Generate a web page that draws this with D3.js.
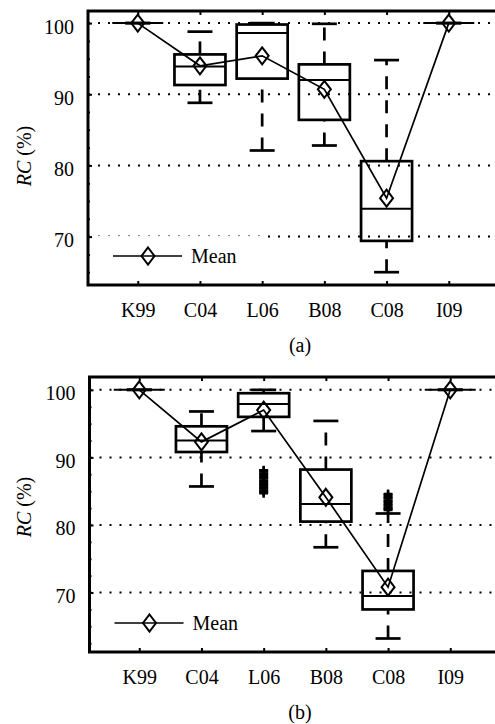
<!DOCTYPE html>
<html>
<head>
<meta charset="utf-8">
<script src="https://cdn.jsdelivr.net/npm/d3@7"></script>
<style>
  body { margin: 0; background: #fff; }
  svg text { font-family: "Liberation Serif", "Times New Roman", serif; fill: #000; }
</style>
</head>
<body>
<div id="chart"></div>
<script>
var width = 495,
	height = 724;

// Data
var categories = ["K99", "C04", "L06", "B08", "C08", "I09"];
var yTicks = [70, 80, 90, 100];

// panel (a)
var aLowCap  = [100, 88.8, 82.1, 82.8, 65.0, 100];
var aQ1      = [100, 91.3, 92.2, 86.4, 69.4, 100];
var aMedian  = [100, 93.9, 98.6, 92.0, 73.9, 100];
var aQ3      = [100, 95.6, 99.8, 94.2, 80.6, 100];
var aHighCap = [100, 98.8, 100, 99.9, 94.8, 100];
var aMean    = [100, 94.0, 95.4, 90.7, 75.4, 100];

// panel (b)
var bLowCap  = [100, 85.7, 93.9, 76.7, 63.2, 100];
var bQ1      = [100, 90.8, 96.0, 80.5, 67.5, 100];
var bMedian  = [100, 92.5, 97.9, 83.1, 69.5, 100];
var bQ3      = [100, 94.6, 99.5, 88.2, 73.2, 100];
var bHighCap = [100, 96.8, 100, 95.4, 81.7, 100];
var bMean    = [100, 92.3, 97.0, 84.1, 70.8, 100];
var bOutliersL06 = [88.1, 87.9, 87.6, 87.4, 87.1, 86.9, 86.6, 86.4, 86.1, 85.9, 85.6, 85.4, 85.1, 84.9, 84.7];
var bOutliersC08 = [84.6, 84.4, 84.1, 83.9, 83.6, 83.4, 83.1, 82.9, 82.6, 82.4, 82.2];

var panels = [
	{ label: "(a)", top: 11, bottom: 285, left: 88, ymin: 63.2, ymax: 101.7, ylabelY: 156,
	  low: aLowCap, q1: aQ1, med: aMedian, q3: aQ3, high: aHighCap, mean: aMean, outliers: [] },
	{ label: "(b)", top: 377, bottom: 652, left: 89.5, ymin: 61.2, ymax: 101.9, ylabelY: 507,
	  low: bLowCap, q1: bQ1, med: bMedian, q3: bQ3, high: bHighCap, mean: bMean,
	  outliers: [{ i: 3, values: bOutliersL06 }, { i: 5, values: bOutliersC08 }] }
];

var svg = d3.select("#chart")
	.append("svg")
	.attr("width", width)
	.attr("height", height);

var boxW = 51, capW = 25;
var diamond = "M0,-8.5L6.5,0L0,8.5L-6.5,0Z";

panels.forEach(function(p) {
	var x = d3.scaleLinear().domain([0.2, 7.2]).range([p.left, p.left + 7 * 62.2]);
	var y = d3.scaleLinear().domain([p.ymin, p.ymax]).range([p.bottom, p.top]);
	var g = svg.append("g");
	var idx = d3.range(1, categories.length + 1);

	// dotted grid
	g.selectAll(".grid")
		.data(yTicks)
		.enter()
		.append("line")
		.attr("x1", p.left).attr("x2", width)
		.attr("y1", function(d) { return y(d); })
		.attr("y2", function(d) { return y(d); })
		.attr("stroke", "#000")
		.attr("stroke-width", 2)
		.attr("stroke-dasharray", "2,8");

	// whiskers (drawn from lower value upward)
	var boxes = g.selectAll(".box")
		.data(idx)
		.enter()
		.append("g")
		.attr("fill", "none")
		.attr("stroke", "#000")
		.attr("stroke-width", 2.7);

	boxes.append("line")
		.attr("x1", function(i) { return x(i); }).attr("x2", function(i) { return x(i); })
		.attr("y1", function(i) { return y(p.q3[i - 1]); })
		.attr("y2", function(i) { return y(p.high[i - 1]); })
		.attr("stroke-dasharray", "13,11");
	boxes.append("line")
		.attr("x1", function(i) { return x(i); }).attr("x2", function(i) { return x(i); })
		.attr("y1", function(i) { return y(p.low[i - 1]); })
		.attr("y2", function(i) { return y(p.q1[i - 1]); })
		.attr("stroke-dasharray", "13,11");
	// caps
	[p.low, p.high].forEach(function(arr) {
		boxes.append("line")
			.attr("x1", function(i) { return x(i) - capW / 2; })
			.attr("x2", function(i) { return x(i) + capW / 2; })
			.attr("y1", function(i) { return y(arr[i - 1]); })
			.attr("y2", function(i) { return y(arr[i - 1]); });
	});
	// box
	boxes.append("rect")
		.attr("x", function(i) { return x(i) - boxW / 2; })
		.attr("width", boxW)
		.attr("y", function(i) { return y(p.q3[i - 1]); })
		.attr("height", function(i) { return y(p.q1[i - 1]) - y(p.q3[i - 1]); });
	// median
	boxes.append("line")
		.attr("x1", function(i) { return x(i) - boxW / 2; })
		.attr("x2", function(i) { return x(i) + boxW / 2; })
		.attr("y1", function(i) { return y(p.med[i - 1]); })
		.attr("y2", function(i) { return y(p.med[i - 1]); })
		.attr("stroke-width", 2);

	// outliers
	p.outliers.forEach(function(o) {
		g.selectAll(null)
			.data(o.values)
			.enter()
			.append("path")
			.attr("transform", function(d) { return "translate(" + x(o.i) + "," + y(d) + ")"; })
			.attr("d", "M-4.5,0H4.5M0,-4.5V4.5")
			.attr("stroke", "#000")
			.attr("stroke-width", 2.5);
	});

	// mean line + diamonds
	var line = d3.line()
		.x(function(d, i) { return x(i + 1); })
		.y(function(d) { return y(d); });
	g.append("path")
		.datum(p.mean)
		.attr("d", line)
		.attr("fill", "none")
		.attr("stroke", "#000")
		.attr("stroke-width", 1.7);
	g.selectAll(".mean")
		.data(p.mean)
		.enter()
		.append("path")
		.attr("transform", function(d, i) { return "translate(" + x(i + 1) + "," + y(d) + ")"; })
		.attr("d", diamond)
		.attr("fill", "none")
		.attr("stroke", "#000")
		.attr("stroke-width", 2);

	// legend
	var ly = p.bottom - 29;
	g.append("rect")
		.attr("x", p.left + 2).attr("y", ly - 20)
		.attr("width", 176).attr("height", 40)
		.attr("fill", "#fff");
	g.append("line")
		.attr("x1", p.left + 25).attr("x2", p.left + 94)
		.attr("y1", ly).attr("y2", ly)
		.attr("stroke", "#000").attr("stroke-width", 1.7);
	g.append("path")
		.attr("transform", "translate(" + (p.left + 60) + "," + ly + ")")
		.attr("d", diamond)
		.attr("fill", "none").attr("stroke", "#000").attr("stroke-width", 2);
	g.append("text")
		.attr("x", p.left + 103).attr("y", ly + 7)
		.attr("font-size", 20)
		.text("Mean");

	// axes
	var yAxis = g.append("g")
		.attr("transform", "translate(" + p.left + ",0)")
		.call(d3.axisLeft(y).tickValues(yTicks).tickSizeInner(-4).tickSizeOuter(0).tickPadding(14));
	var minor = d3.range(62.5, 101, 2.5).filter(function(v) { return v > p.ymin + 0.5 && v < p.ymax - 0.5; });
	g.append("g")
		.attr("transform", "translate(" + p.left + ",0)")
		.call(d3.axisLeft(y).tickValues(minor).tickSizeInner(-2).tickSizeOuter(0).tickFormat(""));
	g.append("g")
		.attr("transform", "translate(0," + p.bottom + ")")
		.call(d3.axisBottom(x).tickValues(idx).tickSizeInner(-4).tickSizeOuter(0).tickPadding(18)
			.tickFormat(function(i) { return categories[i - 1]; }));
	g.append("g")
		.attr("transform", "translate(0," + p.top + ")")
		.call(d3.axisTop(x).tickValues(idx).tickSizeInner(-4).tickSizeOuter(0).tickFormat(""));

	g.selectAll(".domain").remove();
	g.selectAll(".tick line").attr("stroke", "#000").attr("stroke-width", 2);
	g.selectAll(".tick text")
		.attr("font-family", "Liberation Serif, Times New Roman, serif")
		.attr("font-size", 20);
	yAxis.selectAll(".tick text").attr("dy", "0.5em");

	g.append("path")
		.attr("d", "M" + width + "," + p.top + "H" + p.left + "V" + p.bottom + "H" + width)
		.attr("fill", "none")
		.attr("stroke", "#000")
		.attr("stroke-width", 3);

	// y label
	var yl = g.append("text")
		.attr("transform", "translate(31," + p.ylabelY + ") rotate(-90)")
		.attr("text-anchor", "middle")
		.attr("font-size", 20);
	yl.append("tspan").attr("font-style", "italic").text("RC");
	yl.append("tspan").text(" (%)");

	// panel label
	g.append("text")
		.attr("x", 300).attr("y", p.bottom + 67)
		.attr("text-anchor", "middle")
		.attr("font-size", 20)
		.text(p.label);
});
</script>
</body>
</html>
